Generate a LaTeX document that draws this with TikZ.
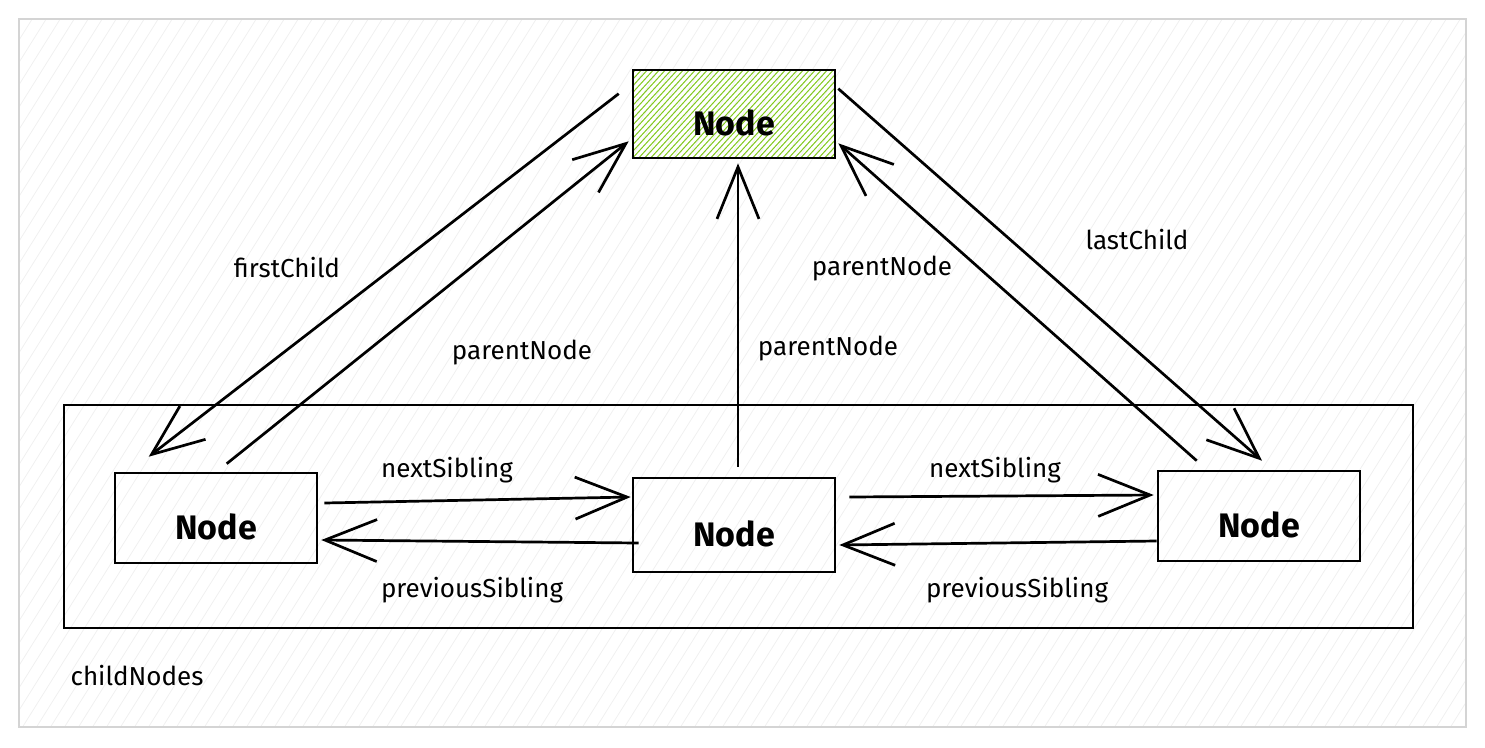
\documentclass[tikz,border=0pt]{standalone}
\usepackage{fontspec}
\setmainfont{Fira Sans}
\usetikzlibrary{arrows.meta, calc, positioning}
\definecolor{hatchgreen}{HTML}{82C91E}
\definecolor{framegray}{HTML}{D4D4D4}
\newcommand{\nodetxt}{\raisebox{-9pt}[\height][0pt]{Node}}

\tikzset{
  box/.style={draw, line width=2.6pt, minimum width=202pt, minimum height=90pt,
    inner sep=0pt, font=\fontsize{34}{40}\selectfont\bfseries},
  lbl/.style={font=\fontsize{26}{30}\selectfont},
  link/.style={->, line width=2.7pt},
}

\begin{document}
\begin{tikzpicture}[x=1pt, y=-1pt, >={Straight Barb[length=52pt, width=42pt]}]
  \useasboundingbox (0,0) rectangle (1485,747);
  % Sketch paper with faint hatching
  \draw[framegray, line width=2.5pt, path picture={
      \foreach \i in {-480,-466,...,1480}
        \draw[gray!12, line width=0.8pt]
          ($(path picture bounding box.south west)+(\i-19,20)$) -- ++(470,-750);
    }] (19,19) rectangle (1466,727);

  % Parent node, green hatched
  \node[box, minimum height=88pt, path picture={
      \foreach \i in {-100,-94,...,220}
        \draw[hatchgreen, line width=1pt]
          ($(path picture bounding box.south west)+(\i,4)$) -- ++(88,-96);
    }] (top) at (734,114) {\nodetxt};

  % The children and their container
  \draw[line width=2.6pt] (64,405) rectangle (1413,628);
  \node[box] (first) at (216,518) {\nodetxt};
  \node[box, minimum height=94pt] (mid) at (734,525) {\nodetxt};
  \node[box] (last) at (1259,516) {\nodetxt};

  % Links to and from the parent
  \draw[link] ($(top.north west)+(-13,25)$) -- ($(first.north west)+(35,-15)$);
  \draw[link] ($(first.north west)+(113,-8)$) -- ($(top.south west)+(-3,-18)$);
  \draw[link] ($(mid.north)+(4,-10)$) -- ($(top.south)+(4,4)$);
  \draw[link] ($(last.north west)+(40,-9)$) -- ($(top.south east)+(2,-16)$);
  \draw[link] ($(top.north east)+(2,20)$) -- ($(last.north)+(3,-9)$);

  % Sibling links
  \draw[link] ($(first.east)+(6,-15)$) -- ($(mid.west)+(-1,-28)$);
  \draw[link] ($(mid.west)+(7,18)$) -- ($(first.east)+(3,22)$);
  \draw[link] ($(mid.east)+(13,-28)$) -- ($(last.west)+(-3,-21)$);
  \draw[link] ($(last.west)+(0,25)$) -- ($(mid.east)+(3,20)$);

  % Labels
  \node[lbl] (lfirst) at (287,268) {firstChild};
  \node[lbl] (lpar1) at (522,353) {parentNode};
  \node[lbl] (lpar2) at (828,349) {parentNode};
  \node[lbl] (lpar3) at (882,269) {parentNode};
  \node[lbl] (llast) at (1137,240) {lastChild};
  \node[lbl] (lnext1) at (447,470) {nextSibling};
  \node[lbl] (lprev1) at (472,590) {previousSibling};
  \node[lbl] (lnext2) at (995,470) {nextSibling};
  \node[lbl] (lprev2) at (1017,590) {previousSibling};
  \node[lbl] (lkids) at (137,676) {childNodes};
\end{tikzpicture}
\end{document}
